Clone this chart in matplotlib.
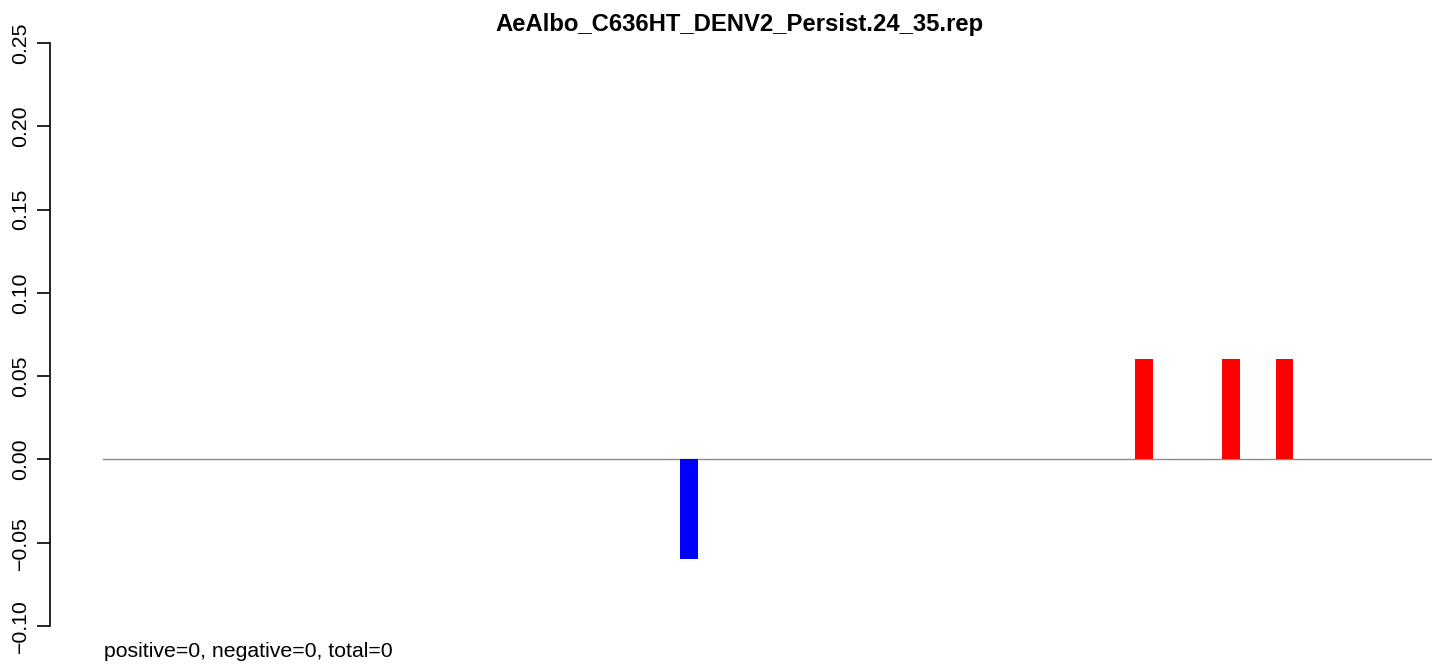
import matplotlib
matplotlib.use("Agg")
import matplotlib.pyplot as plt

# bar data (position along the region, relative value)
positions = [44.1, 78.3, 84.9, 88.9]
values = [-0.06, 0.06, 0.06, 0.06]
colors = ["#0000FF", "#FF0000", "#FF0000", "#FF0000"]
region_len = 100
bar_width = 1.35
yticks = [-0.10, -0.05, 0.00, 0.05, 0.10, 0.15, 0.20, 0.25]
title = "AeAlbo_C636HT_DENV2_Persist.24_35.rep"
footer = "positive=0, negative=0, total=0"

plt.rcParams["font.family"] = ["Liberation Sans", "DejaVu Sans"]

W, H = 1439, 664
fig = plt.figure(figsize=(W / 100, H / 100), dpi=100)
left_px, right_px = 50, 1432
top_px, bot_px = 43, 626
ax = fig.add_axes([left_px / W, (H - bot_px) / H,
                   (right_px - left_px) / W, (bot_px - top_px) / H])

px_per_unit = (right_px - 103) / region_len
ax.set_xlim(-(103 - left_px) / px_per_unit, region_len)
ax.set_ylim(-0.10, 0.25)

ax.bar(positions, values, width=bar_width, color=colors, align="center")
ax.plot([0, region_len], [0, 0], color="#8c8c8c", lw=1.0, zorder=0)

for s in ["top", "right", "bottom"]:
    ax.spines[s].set_visible(False)
ax.spines["left"].set_linewidth(1.2)
ax.set_xticks([])
ax.set_yticks(yticks)
ax.set_yticklabels([f"{t:.2f}".replace("-", "\u2212") for t in yticks],
                   rotation=90, va="center", fontsize=15.3)
ax.tick_params(axis="y", length=9.4, width=1.2, pad=5)

fig.text(739 / W, 1 - 25 / H, title, ha="center",
         va="center", fontsize=17.2, fontweight="bold")
fig.text(104 / W, 1 - 657 / H, footer, ha="left", va="baseline", fontsize=15.3)

fig.savefig("out.png", dpi=100)
